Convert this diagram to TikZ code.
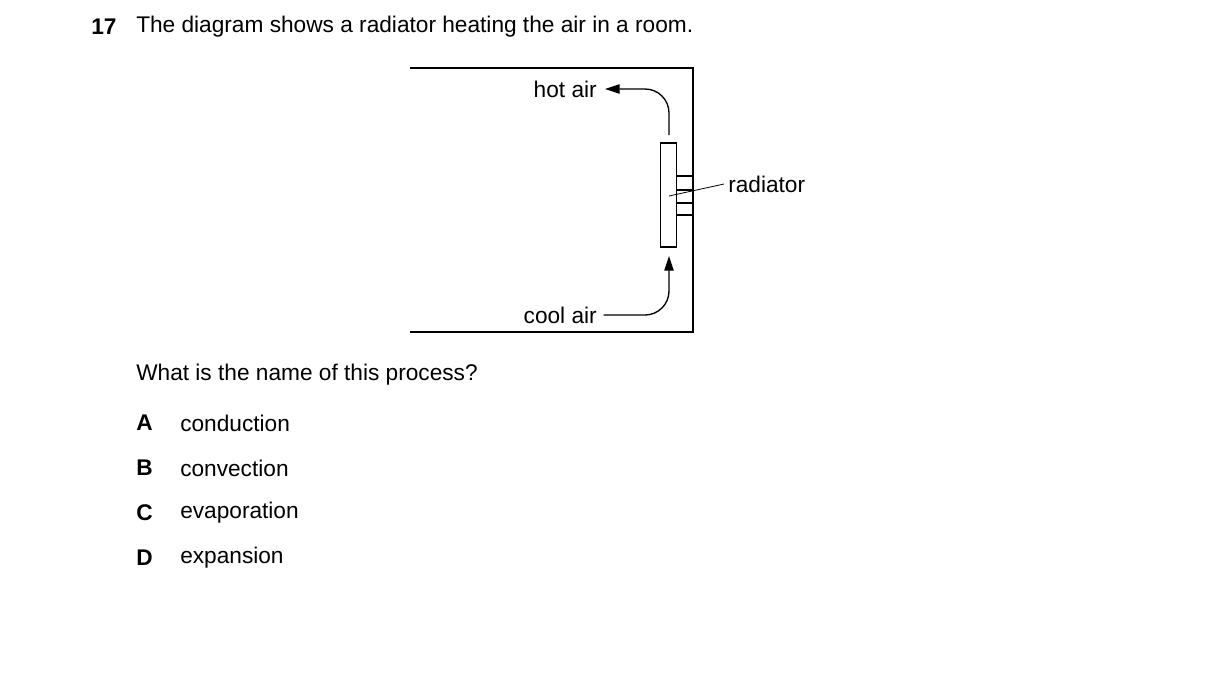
\documentclass[tikz,border=0pt]{standalone}
\usepackage{fontspec}
\setmainfont{Liberation Sans}
\usetikzlibrary{positioning,arrows.meta}

\tikzset{
    txt/.style={inner sep=0pt, anchor=west, font=\fontsize{17}{20}\selectfont},
    wall/.style={line width=1.3pt},
    flow/.style={line width=1pt, -{Triangle[length=11pt,width=7pt]}}
}

\begin{document}
\begin{tikzpicture}[x=0.75pt, y=-0.75pt]
    \useasboundingbox (0,0) rectangle (1216,690);
    % question
    \node[txt, font=\fontsize{17}{20}\selectfont\bfseries] (num) at (91,27) {17};
    \node[txt] (q) at (136,27) {The diagram shows a radiator heating the air in a room.};
    % room
    \draw[wall] (410,68) -- (693,68) -- (693,332) -- (410,332);
    % radiator and brackets
    \node[draw, line width=1pt, minimum width=12pt, minimum height=78pt, inner sep=0pt] (rad) at (668.5,195) {};
    \foreach \yy in {176,190,203,215}
        \draw[line width=0.9pt] (676.5,\yy) -- (693,\yy);
    % label
    \node[txt] (lab) at (728,184) {radiator};
    \coordinate (tip) at (669,196);
    \draw[line width=0.6pt] (tip) -- ([xshift=-3]lab.west);
    % air flows
    \node[txt, anchor=east] (hot) at (597,89) {hot air};
    \node[txt, anchor=east] (cool) at (597,315) {cool air};
    \coordinate (up1) at (669,135);
    \coordinate (dn1) at (669,256);
    \draw[flow] (up1) -- (669,113) arc (0:-90:24) -- ([xshift=6]hot.east);
    \draw[flow] ([xshift=5]cool.east) -- (645,315) arc (90:0:24) -- (dn1);
    % answers
    \node[txt] (ask) at (136,375) {What is the name of this process?};
    \foreach \l/\w [count=\i] in {A/conduction,B/convection,C/evaporation,D/expansion}{
        \node[txt, font=\fontsize{17}{20}\selectfont\bfseries] (l\i) at (136,378+45*\i) {\l};
        \node[txt] (w\i) at (180,378+45*\i) {\w};
    }
\end{tikzpicture}
\end{document}
